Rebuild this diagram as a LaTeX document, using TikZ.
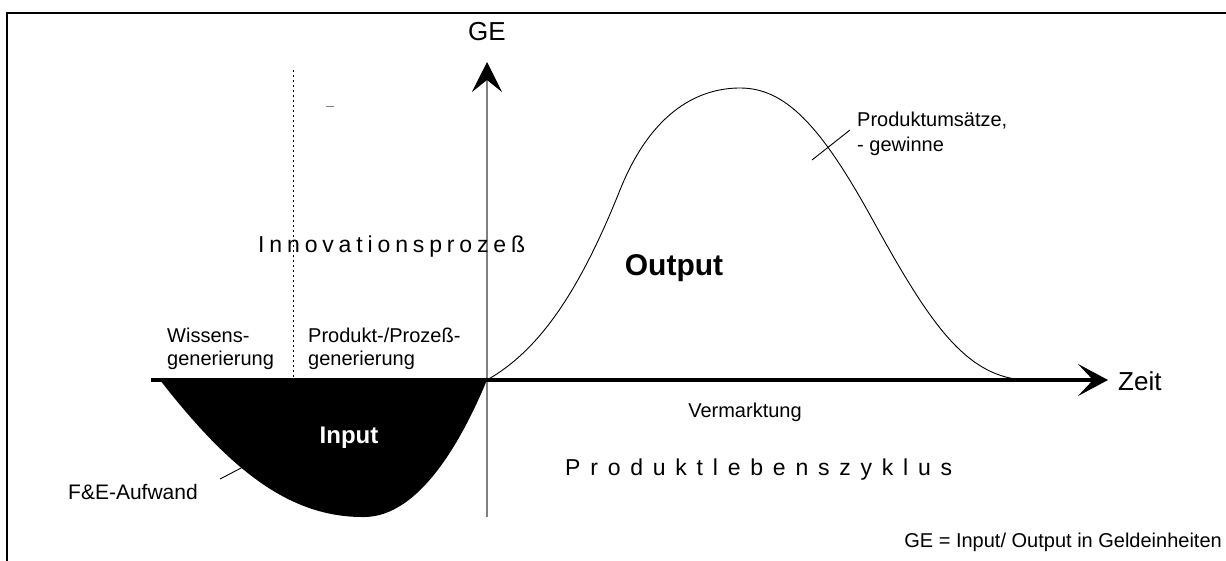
\documentclass[tikz,border=0pt]{standalone}
\usepackage{fontspec}
\setmainfont{Liberation Sans}
\usetikzlibrary{arrows.meta}
\begin{document}
\begin{tikzpicture}[x=1pt,y=-1pt,
  lbl/.style={font=\fontsize{20}{23}\selectfont, inner sep=0pt},
  spaced/.style={font=\fontsize{23}{26}\selectfont, inner sep=0pt},
  big/.style={font=\fontsize{26}{30}\selectfont, inner sep=0pt},
  boldlbl/.style={font=\fontsize{24}{28}\selectfont\bfseries, inner sep=0pt},
  leader/.style={draw=black, line width=0.9pt},
  frame/.style={line width=2.5pt}]
\useasboundingbox (0,0) rectangle (1226,561);
% frame
\draw[frame] (7,561) -- (7,13) -- (1226,13);
% coordinates
\coordinate (O) at (487,380);
\coordinate (yb) at (487,517);
\coordinate (yt) at (487,62);
\coordinate (xl) at (151,380);
\coordinate (xr) at (1108,380);
\coordinate (dtop) at (293,70);
\coordinate (dbot) at (293,380);
% input area
\fill[black] (160,380) .. controls (230,470) and (290,518) .. (365,517)
  .. controls (420,516) and (462,440) .. (O) -- cycle;
% output curve
\draw[line width=0.9pt] (O) .. controls (540,350) and (580,290) .. (620,190)
  .. controls (652,110) and (700,88) .. (740,88)
  .. controls (785,88) and (820,125) .. (870,215)
  .. controls (925,315) and (960,370) .. (1015,379) -- (1050,380);
% dotted separator
\draw[line width=1pt, dash pattern=on 2pt off 3pt] (dtop) -- (dbot);
% small dash
\coordinate (sd1) at (326,107);
\coordinate (sd2) at (334,107);
\draw[line width=1pt, gray] (sd1) -- (sd2);
% axes
\draw[gray, line width=1.2pt, -{Stealth[length=30pt,width=30pt,inset=12pt,black]}] (yb) -- (yt);
\draw[line width=3.5pt, -{Stealth[length=30pt,width=32pt,inset=15pt]}] (xl) -- (xr);
% labels
\node[big, anchor=base] (ge) at (487,41) {GE};
\node[big, anchor=base west] (zeit) at (1118,390) {Zeit};
\node[lbl, anchor=base west] (w1) at (167,342) {Wissens-};
\node[lbl, anchor=base west] (w2) at (167,365) {generierung};
\node[lbl, anchor=base west] (p1) at (308,342) {Produkt-/Prozeß-};
\node[lbl, anchor=base west] (p2) at (308,365) {generierung};
\node[spaced, anchor=base west] (inno) at (258,253) {\makebox[267pt][s]{I n n o v a t i o n s p r o z e ß}};
\node[boldlbl, font=\fontsize{30}{34}\selectfont\bfseries, anchor=base] (out) at (674,276) {Output};
\node[boldlbl, anchor=base, text=white] (in) at (349,443) {Input};
\node[lbl, font=\fontsize{21}{24}\selectfont, anchor=base west] (fe) at (68,499) {F\&E-Aufwand};
\node[lbl, anchor=base west] (pu1) at (857,127) {Produktumsätze,};
\node[lbl, anchor=base west] (pu2) at (857,152) {- gewinne};
\node[lbl, anchor=base] (verm) at (745,417) {Vermarktung};
\node[spaced, anchor=base west] (plz) at (565,475) {\makebox[387pt][s]{P r o d u k t l e b e n s z y k l u s}};
\node[lbl, anchor=base east] (leg) at (1222,547) {GE = Input/ Output in Geldeinheiten};
% leader lines
\coordinate (feA) at (220,479);
\coordinate (feB) at (245,466);
\draw[leader] (feA) -- (feB);
\coordinate (puA) at (812,160);
\coordinate (puB) at (850,130);
\draw[leader] (puA) -- (puB);
\end{tikzpicture}
\end{document}
